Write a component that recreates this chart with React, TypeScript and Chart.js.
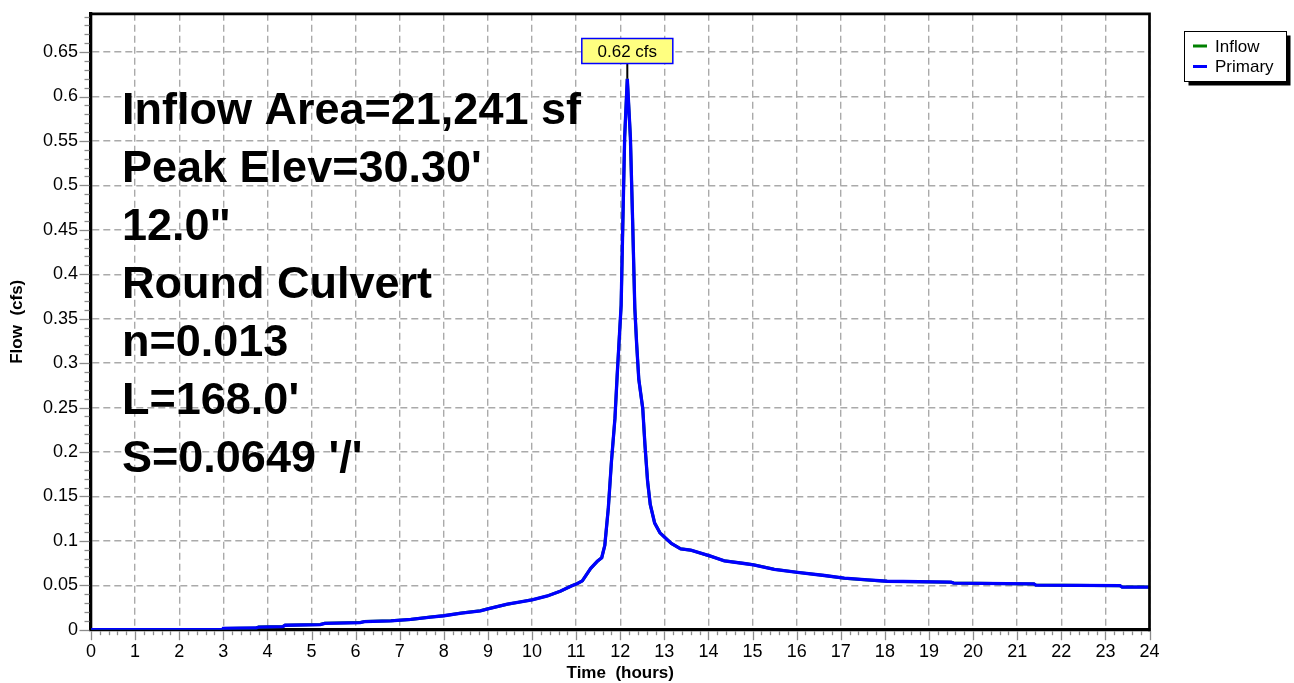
import React, { useEffect, useRef } from 'react';
import { Chart, registerables } from 'chart.js';

Chart.register(...registerables);

// ---- data ----
const timeHours = [
  0, 2.98, 3.0, 3.75, 3.8, 4.35, 4.4, 5.2, 5.3, 6.1, 6.2, 6.8, 7.25, 7.7, 8.0, 8.4, 8.83, 9.0,
  9.44, 9.74, 10.0, 10.35, 10.65, 10.88, 11.03, 11.14, 11.33, 11.48, 11.58, 11.65, 11.73, 11.8,
  11.88, 11.93, 11.98, 12.02, 12.06, 12.1, 12.16, 12.23, 12.28, 12.33, 12.37, 12.42, 12.51, 12.56,
  12.62, 12.68, 12.78, 12.9, 13.03, 13.16, 13.37, 13.6, 14.03, 14.36, 14.81, 15.02, 15.49, 16.02,
  16.63, 17.08, 17.61, 18.05, 19.5, 19.56, 21.38, 21.42, 23.33, 23.38, 24.0,
];
const primaryFlow = [
  0, 0, 0.0015, 0.002, 0.003, 0.0035, 0.005, 0.0058, 0.0072, 0.008, 0.0092, 0.01, 0.0115, 0.0142,
  0.0157, 0.0187, 0.0213, 0.0235, 0.0287, 0.0313, 0.0336, 0.038, 0.0435, 0.049, 0.052, 0.055, 0.069,
  0.077, 0.081, 0.095, 0.137, 0.189, 0.238, 0.286, 0.33, 0.365, 0.461, 0.554, 0.62, 0.554, 0.461,
  0.362, 0.323, 0.282, 0.249, 0.208, 0.167, 0.141, 0.12, 0.109, 0.103, 0.097, 0.091, 0.0895, 0.083,
  0.0775, 0.0745, 0.073, 0.068, 0.0645, 0.061, 0.058, 0.056, 0.0545, 0.0535, 0.0525, 0.0515, 0.0502,
  0.0495, 0.048, 0.048,
];
const inflowFlow = [...primaryFlow];

const seriesLabels = ['Inflow', 'Primary'];
const seriesColors = ['#008000', '#0000ff'];

const xTickValues = [0, 1, 2, 3, 4, 5, 6, 7, 8, 9, 10, 11, 12, 13, 14, 15, 16, 17, 18, 19, 20, 21, 22, 23, 24];
const yTickValues = [0, 0.05, 0.1, 0.15, 0.2, 0.25, 0.3, 0.35, 0.4, 0.45, 0.5, 0.55, 0.6, 0.65];
const yTickLabels = ['0', '0.05', '0.1', '0.15', '0.2', '0.25', '0.3', '0.35', '0.4', '0.45', '0.5', '0.55', '0.6', '0.65'];

const xTitle = 'Time  (hours)';
const yTitle = 'Flow  (cfs)';
const unitLabel = 'cfs';
const infoLines = [
  'Inflow Area=21,241 sf',
  "Peak Elev=30.30'",
  '12.0"',
  'Round Culvert',
  'n=0.013',
  "L=168.0'",
  "S=0.0649 '/'",
];

const FONT = "'Liberation Sans', Arial, Helvetica, sans-serif";

const W = 1294;
const H = 683;
const AREA = { left: 91, right: 1149.5, top: 8.7, bottom: 629.7 };

const decorPlugin = {
  id: 'decor',
  afterDraw(chart: any) {
    const { ctx, chartArea } = chart;
    const xs = chart.scales.x;
    const ys = chart.scales.y;
    ctx.save();

    // minor / major tick marks
    ctx.strokeStyle = '#8c8c8c';
    ctx.lineWidth = 1.3;
    ctx.setLineDash([]);
    for (let i = 0; i <= 69; i++) {
      const v = i / 100;
      const py = Math.round(ys.getPixelForValue(v)) + 0.5;
      const len = i % 5 === 0 ? 10 : 5;
      ctx.beginPath();
      ctx.moveTo(chartArea.left - 1.5, py);
      ctx.lineTo(chartArea.left - 1.5 - len, py);
      ctx.stroke();
    }
    for (let i = 0; i <= 120; i++) {
      const v = i / 5;
      const px = Math.round(xs.getPixelForValue(v)) + 0.5;
      const len = i % 5 === 0 ? 9 : 4;
      ctx.beginPath();
      ctx.moveTo(px, chartArea.bottom + 1.5);
      ctx.lineTo(px, chartArea.bottom + 1.5 + len);
      ctx.stroke();
    }

    // top and right frame
    ctx.strokeStyle = '#000';
    ctx.lineWidth = 2.7;
    ctx.beginPath();
    ctx.moveTo(chartArea.left - 1.5, chartArea.top);
    ctx.lineTo(chartArea.right, chartArea.top);
    ctx.lineTo(chartArea.right, chartArea.bottom + 1.5);
    ctx.stroke();

    // info text
    ctx.fillStyle = '#000';
    ctx.font = `bold 45px ${FONT}`;
    ctx.textBaseline = 'middle';
    ctx.textAlign = 'left';
    infoLines.forEach((line, i) => {
      ctx.fillText(line, 122, 112 + i * 58);
    });

    // peak annotation
    const prim = chart.data.datasets[1].data as { x: number; y: number }[];
    let mi = 0;
    prim.forEach((p, i) => {
      if (p.y > prim[mi].y) mi = i;
    });
    const px = xs.getPixelForValue(prim[mi].x);
    const py = ys.getPixelForValue(prim[mi].y);
    const boxW = 91;
    const boxH = 25;
    const boxTop = 38.5;
    ctx.strokeStyle = '#000';
    ctx.lineWidth = 2;
    ctx.beginPath();
    ctx.moveTo(px, boxTop + boxH);
    ctx.lineTo(px, py);
    ctx.stroke();
    ctx.fillStyle = '#ffff80';
    ctx.fillRect(px - boxW / 2, boxTop, boxW, boxH);
    ctx.strokeStyle = '#0000ff';
    ctx.lineWidth = 1.5;
    ctx.strokeRect(px - boxW / 2, boxTop, boxW, boxH);
    ctx.fillStyle = '#000';
    ctx.font = `17px ${FONT}`;
    ctx.textAlign = 'center';
    ctx.fillText(`${prim[mi].y.toFixed(2)} ${unitLabel}`, px, boxTop + boxH / 2 + 1);

    // legend
    const lx = 1184.5;
    const ly = 31.5;
    const lw = 102;
    const lh = 50;
    ctx.fillStyle = '#000';
    ctx.fillRect(lx + 4, ly + 4, lw, lh);
    ctx.fillStyle = '#fff';
    ctx.fillRect(lx, ly, lw, lh);
    ctx.strokeStyle = '#000';
    ctx.lineWidth = 1;
    ctx.strokeRect(lx, ly, lw, lh);
    ctx.font = `17px ${FONT}`;
    ctx.textAlign = 'left';
    chart.data.datasets.forEach((ds: any, i: number) => {
      const yy = 46 + i * 20.5;
      ctx.strokeStyle = ds.borderColor;
      ctx.lineWidth = 3;
      ctx.beginPath();
      ctx.moveTo(1193, yy);
      ctx.lineTo(1207, yy);
      ctx.stroke();
      ctx.fillStyle = '#000';
      ctx.fillText(ds.label, 1215, yy + 1);
    });

    // axis titles
    ctx.fillStyle = '#000';
    ctx.font = `bold 17px ${FONT}`;
    ctx.textAlign = 'center';
    ctx.textBaseline = 'middle';
    ctx.fillText(xTitle, (chartArea.left + chartArea.right) / 2, 673);
    ctx.save();
    ctx.translate(17, (chartArea.top + chartArea.bottom) / 2);
    ctx.rotate(-Math.PI / 2);
    ctx.fillText(yTitle, 0, 0);
    ctx.restore();

    ctx.restore();
  },
};

export default function App() {
  const canvasRef = useRef<HTMLCanvasElement | null>(null);

  useEffect(() => {
    const canvas = canvasRef.current;
    if (!canvas) return;
    const mk = (arr: number[]) => timeHours.map((t, i) => ({ x: t, y: arr[i] }));
    const gridColor = '#aaaaaa';
    const chart = new Chart(canvas, {
      type: 'line',
      data: {
        datasets: [
          {
            label: seriesLabels[0],
            data: mk(inflowFlow),
            borderColor: seriesColors[0],
            backgroundColor: seriesColors[0],
            borderWidth: 3,
            pointRadius: 0,
            tension: 0,
            order: 2,
          },
          {
            label: seriesLabels[1],
            data: mk(primaryFlow),
            borderColor: seriesColors[1],
            backgroundColor: seriesColors[1],
            borderWidth: 3.3,
            pointRadius: 0,
            tension: 0,
            order: 1,
          },
        ],
      },
      options: {
        responsive: false,
        animation: false,
        devicePixelRatio: 1,
        layout: {
          padding: { left: 0, top: AREA.top, right: W - AREA.right, bottom: 0 },
        },
        plugins: {
          legend: { display: false },
          tooltip: { enabled: false },
          title: { display: false },
        },
        scales: {
          x: {
            type: 'linear',
            min: 0,
            max: 24,
            afterBuildTicks: (s: any) => {
              s.ticks = xTickValues.map((v) => ({ value: v }));
            },
            afterFit: (s: any) => {
              s.height = H - AREA.bottom;
            },
            ticks: {
              autoSkip: false,
              maxRotation: 0,
              color: '#000',
              padding: 2,
              font: { family: FONT, size: 18 },
              callback: (v: any) => String(v),
            },
            grid: {
              color: gridColor,
              lineWidth: 1.4,
              drawTicks: true,
              tickLength: 10,
              tickColor: 'rgba(0,0,0,0)',
            },
            border: { display: true, color: '#000', width: 3.3, dash: [7, 4] },
          },
          y: {
            type: 'linear',
            min: 0,
            max: (AREA.bottom - AREA.top) / 896,
            afterBuildTicks: (s: any) => {
              s.ticks = yTickValues.map((v) => ({ value: v }));
            },
            afterFit: (s: any) => {
              s.width = AREA.left;
            },
            ticks: {
              autoSkip: false,
              color: '#000',
              padding: 3,
              font: { family: FONT, size: 18 },
              callback: (_v: any, i: number) => yTickLabels[i],
            },
            grid: {
              color: gridColor,
              lineWidth: 1.4,
              drawTicks: true,
              tickLength: 10,
              tickColor: 'rgba(0,0,0,0)',
            },
            border: { display: true, color: '#000', width: 3.3, dash: [7, 4] },
          },
        },
      },
      plugins: [decorPlugin],
    } as any);
    return () => chart.destroy();
  }, []);

  return (
    <div style={{ position: 'fixed', left: 0, top: 0, width: W, height: H, background: '#fff' }}>
      <canvas ref={canvasRef} width={W} height={H} style={{ width: W, height: H, display: 'block' }} />
    </div>
  );
}
